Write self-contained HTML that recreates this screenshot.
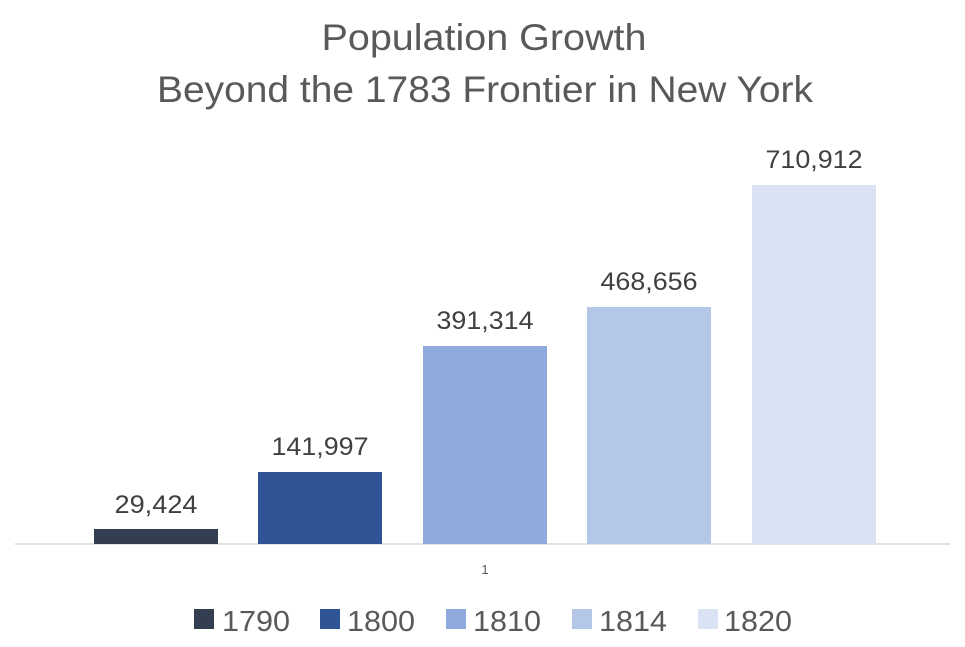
<!DOCTYPE html>
<html><head><meta charset="utf-8"><style>
body{margin:0;background:#fff;width:965px;height:642px;overflow:hidden}
svg text{font-family:"Liberation Sans",sans-serif}
</style></head><body>
<svg width="965" height="642" xmlns="http://www.w3.org/2000/svg">
<rect width="965" height="642" fill="#fff"/>
<g fill="#595959" font-size="37" text-anchor="middle">
<text x="484" y="50" textLength="325" lengthAdjust="spacingAndGlyphs">Population Growth</text>
<text x="485" y="102" textLength="656" lengthAdjust="spacingAndGlyphs">Beyond the 1783 Frontier in New York</text>
</g>
<line x1="15" y1="544" x2="950" y2="544" stroke="#d9d9d9" stroke-width="1.5"/>
<rect x="94" y="529" width="124" height="15" fill="#333F50"/>
<rect x="258" y="472" width="124" height="72" fill="#2F5597"/>
<rect x="423" y="346" width="124" height="198" fill="#8FAADC"/>
<rect x="587" y="307" width="124" height="237" fill="#B4C7E7"/>
<rect x="752" y="185" width="124" height="359" fill="#DAE3F3"/>
<g fill="#404040" font-size="25" text-anchor="middle">
<text x="156" y="513" textLength="83" lengthAdjust="spacingAndGlyphs">29,424</text>
<text x="320" y="455" textLength="97" lengthAdjust="spacingAndGlyphs">141,997</text>
<text x="485" y="329" textLength="97" lengthAdjust="spacingAndGlyphs">391,314</text>
<text x="649" y="290" textLength="97" lengthAdjust="spacingAndGlyphs">468,656</text>
<text x="814" y="168" textLength="97" lengthAdjust="spacingAndGlyphs">710,912</text>
</g>
<text x="485" y="574" fill="#595959" font-size="13" text-anchor="middle">1</text>
<g font-size="29" fill="#595959">
<rect x="194" y="609" width="20" height="20" fill="#333F50"/><text x="222" y="631" textLength="68" lengthAdjust="spacingAndGlyphs">1790</text>
<rect x="320" y="609" width="20" height="20" fill="#2F5597"/><text x="347" y="631" textLength="68" lengthAdjust="spacingAndGlyphs">1800</text>
<rect x="446" y="609" width="20" height="20" fill="#8FAADC"/><text x="473" y="631" textLength="68" lengthAdjust="spacingAndGlyphs">1810</text>
<rect x="572" y="609" width="20" height="20" fill="#B4C7E7"/><text x="599" y="631" textLength="68" lengthAdjust="spacingAndGlyphs">1814</text>
<rect x="698" y="609" width="20" height="20" fill="#DAE3F3"/><text x="724" y="631" textLength="68" lengthAdjust="spacingAndGlyphs">1820</text>
</g>
</svg>
</body></html>
